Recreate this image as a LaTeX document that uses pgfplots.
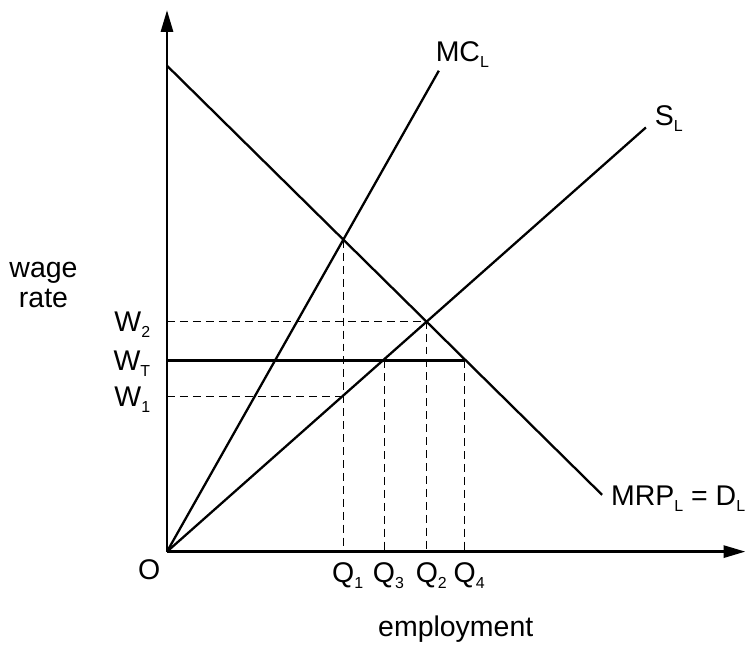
\documentclass[border=0pt]{standalone}
\usepackage{pgfplots}
\pgfplotsset{compat=1.18}
\usepackage{fontspec}
\setmainfont{Liberation Sans}
\usetikzlibrary{arrows.meta}
\newcommand\sub[1]{\raisebox{-3pt}{\fontsize{8}{8}\selectfont #1}}

\begin{document}
\fontsize{14.3}{15}\selectfont
\begin{tikzpicture}
\begin{axis}[
    x=0.5pt, y=0.5pt,
    xmin=-166, xmax=581,
    ymin=-97, ymax=554,
    hide axis, clip=false,
]
% invisible frame that fixes the bounding box
\addplot[draw=none] coordinates {(-166,-97) (581,554)};

% axes
\draw[line width=1.5pt, -{Triangle[length=11pt,width=6pt]}] (axis cs:0,0) -- (axis cs:0,544);
\draw[line width=1.5pt, -{Triangle[length=11pt,width=6pt]}] (axis cs:0,0) -- (axis cs:581,0);

% dashed guides
\addplot[black, line width=0.55pt, dash pattern=on 4pt off 2.5pt] coordinates {(0,231) (261,231) (261,0)};
\addplot[black, line width=0.55pt, dash pattern=on 4pt off 2.5pt] coordinates {(0,156) (177,156)};
\addplot[black, line width=0.55pt, dash pattern=on 4pt off 2.5pt] coordinates {(177,313) (177,0)};
\addplot[black, line width=0.55pt, dash pattern=on 4pt off 2.5pt] coordinates {(218,192) (218,0)};
\addplot[black, line width=0.55pt, dash pattern=on 4pt off 2.5pt] coordinates {(299,192) (299,0)};

% curves
\addplot[black, line width=1.15pt] coordinates {(0,488) (437,57)};   % MRP = D
\addplot[black, line width=1.15pt] coordinates {(0,0) (273,483)};    % MC
\addplot[black, line width=1.15pt] coordinates {(0,0) (481,426)};    % S
\addplot[black, line width=1.15pt] coordinates {(0,192) (299,192)};  % W_T

% labels
\node[align=center] at (axis cs:-124,268) {wage\\rate};
\node at (axis cs:-18,-18) {O};
\node[anchor=east] at (axis cs:-7,228) {W\sub{2}};
\node[anchor=east] at (axis cs:-7,189) {W\sub{T}};
\node[anchor=east] at (axis cs:-7,153) {W\sub{1}};
\node at (axis cs:177,-24) {Q\rlap{\sub{1}}};
\node at (axis cs:218,-24) {Q\rlap{\sub{3}}};
\node at (axis cs:261,-24) {Q\rlap{\sub{2}}};
\node at (axis cs:299,-24) {Q\rlap{\sub{4}}};
\node at (axis cs:290,-78) {employment};
\node[anchor=west] at (axis cs:260,499) {MC\sub{L}};
\node[anchor=west] at (axis cs:480,435) {S\sub{L}};
\node[anchor=east, inner xsep=0pt] at (axis cs:581,53) {MRP\sub{L} = D\sub{L}};
\end{axis}
\end{tikzpicture}
\end{document}
